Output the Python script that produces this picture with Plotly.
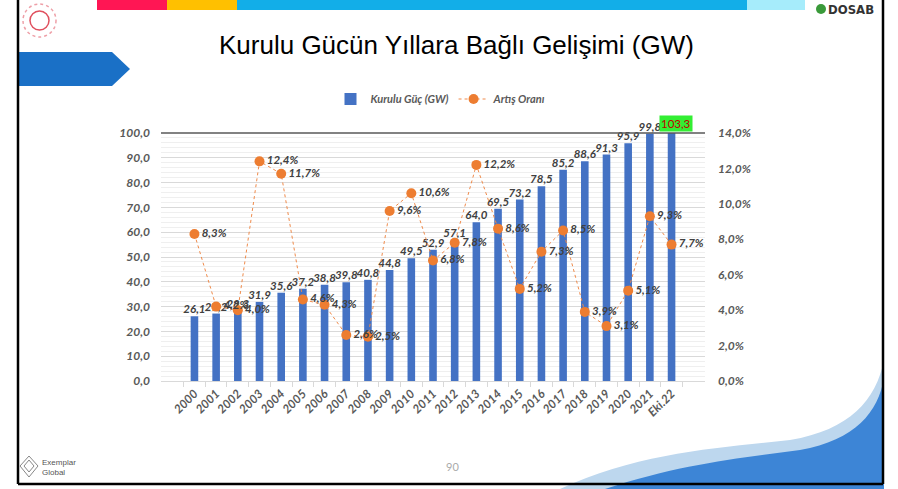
import plotly.graph_objects as go

# ---- data ----
years = ["2000", "2001", "2002", "2003", "2004", "2005", "2006", "2007", "2008", "2009",
         "2010", "2011", "2012", "2013", "2014", "2015", "2016", "2017", "2018", "2019",
         "2020", "2021", "Eki.22"]
kurulu_guc = [26.1, 27.2, 28.3, 31.9, 35.6, 37.2, 38.8, 39.8, 40.8, 44.8, 49.5, 52.9, 57.1,
              64.0, 69.5, 73.2, 78.5, 85.2, 88.6, 91.3, 95.9, 99.8, 103.3]
artis_orani = [8.3, 4.2, 4.0, 12.4, 11.7, 4.6, 4.3, 2.6, 2.5, 9.6, 10.6, 6.8, 7.8, 12.2, 8.6,
               5.2, 7.3, 8.5, 3.9, 3.1, 5.1, 9.3, 7.7]
left_range = [0, 100]
right_range = [0, 14]

title_text = "Kurulu Gücün Yıllara Bağlı Gelişimi (GW)"

# ---- layout geometry (pixels) ----
FW, FH = 898, 489
L, R, T, B = 161, 705, 133, 381
PW, PH = R - L, B - T


def px(x):
    return (x - L) / PW


def py(y):
    return (B - y) / PH


FONT = "Lato"
LABEL_COL = "#404040"
TICK_COL = "#595959"

fig = go.Figure()

fig.add_trace(go.Bar(
    x=years, y=kurulu_guc, name="Kurulu Güç (GW)",
    marker=dict(color="#4472c4", line=dict(width=0)),
    yaxis="y", cliponaxis=True,
))

# bar value labels (last one is drawn as highlighted annotation)
fig.add_trace(go.Scatter(
    x=years[:-1], y=kurulu_guc[:-1], mode="text", showlegend=False,
    texttemplate="%{y:.1f}", textposition="top center",
    textfont=dict(family=FONT, size=11.5, color=LABEL_COL, weight="bold", style="italic"),
    cliponaxis=False, yaxis="y", hoverinfo="skip",
))

fig.add_trace(go.Scatter(
    x=years, y=artis_orani, name="Artış Oranı", mode="lines+markers+text",
    line=dict(color="#ef8a4a", width=1, dash="dot"),
    marker=dict(color="#ed7d31", size=10),
    texttemplate="%{y:.1f}%", textposition="middle right",
    textfont=dict(family=FONT, size=11.5, color=LABEL_COL, weight="bold", style="italic"),
    cliponaxis=False, yaxis="y2",
))

tickfont = dict(family=FONT, size=12, color=TICK_COL, weight="bold", style="italic")

shapes = []
# header colour strips
for x0, x1, col in [(97, 167, "#ff1654"), (167, 237, "#ffc000"),
                    (237, 747, "#12aee8"), (747, 805, "#a6ecfb")]:
    shapes.append(dict(type="rect", xref="paper", yref="paper",
                       x0=px(x0), x1=px(x1), y0=py(0), y1=py(10),
                       fillcolor=col, line=dict(width=0), layer="above"))
# left blue arrow
shapes.append(dict(type="path", xref="paper", yref="paper",
                   path=f"M {px(19)},{py(52)} L {px(112)},{py(52)} L {px(130)},{py(69)} "
                        f"L {px(112)},{py(86)} L {px(19)},{py(86)} Z",
                   fillcolor="#1a70c6", line=dict(width=0)))
# emblem
shapes.append(dict(type="circle", xref="paper", yref="paper",
                   x0=px(23), x1=px(56), y0=py(4), y1=py(37),
                   line=dict(color="#eea0a8", width=1.5, dash="dot")))
shapes.append(dict(type="circle", xref="paper", yref="paper",
                   x0=px(30), x1=px(49), y0=py(11), y1=py(30),
                   line=dict(color="#e0505e", width=1.5)))
# DOSAB icon
shapes.append(dict(type="circle", xref="paper", yref="paper",
                   x0=px(816), x1=px(826), y0=py(4), y1=py(14),
                   fillcolor="#3a9a3a", line=dict(width=0)))
# bottom-right waves
shapes.append(dict(type="path", xref="paper", yref="paper",
                   path=f"M {px(560)},{py(489)} C {px(640)},{py(452)} {px(720)},{py(448)} {px(790)},{py(440)} "
                        f"C {px(850)},{py(430)} {px(876)},{py(400)} {px(884)},{py(360)} L {px(884)},{py(489)} Z",
                   fillcolor="#bdd7ee", line=dict(width=0)))
shapes.append(dict(type="path", xref="paper", yref="paper",
                   path=f"M {px(605)},{py(489)} C {px(680)},{py(464)} {px(740)},{py(458)} {px(800)},{py(450)} "
                        f"C {px(856)},{py(440)} {px(878)},{py(412)} {px(884)},{py(378)} L {px(884)},{py(489)} Z",
                   fillcolor="#3d85d6", line=dict(width=0)))
# Exemplar diamond
shapes.append(dict(type="path", xref="paper", yref="paper",
                   path=f"M {px(29)},{py(456)} L {px(38)},{py(466)} L {px(29)},{py(477)} L {px(20)},{py(466)} Z",
                   line=dict(color="#888888", width=1)))
shapes.append(dict(type="path", xref="paper", yref="paper",
                   path=f"M {px(29)},{py(460)} L {px(34)},{py(466)} L {px(29)},{py(472)} L {px(24)},{py(466)} Z",
                   line=dict(color="#888888", width=1)))
# slide frame
for x0, y0, x1, y1 in [(18, 0, 18, 484), (18, 484, 883, 484), (883, 0, 883, 484)]:
    shapes.append(dict(type="line", xref="paper", yref="paper",
                       x0=px(x0), x1=px(x1), y0=py(y0), y1=py(y1),
                       line=dict(color="#000000", width=2.5), layer="above"))
# top dark line at axis max
shapes.append(dict(type="line", xref="paper", yref="paper", x0=0, x1=1, y0=1, y1=1,
                   line=dict(color="#595959", width=1.5)))

annotations = [
    dict(text=title_text, xref="paper", yref="paper", x=px(456), y=py(45),
         showarrow=False, font=dict(family="Liberation Sans", size=26, color="#000000"),
         xanchor="center", yanchor="middle"),
    dict(text=f"{kurulu_guc[-1]:.1f}".replace(".", ","), xref="x", yref="paper",
         x=years[-1], y=1, yanchor="bottom", xanchor="center", showarrow=False,
         xshift=4, yshift=1,
         bgcolor="#33ee33", borderpad=1,
         font=dict(family=FONT, size=11.5, color="#c00000")),
    dict(text="<b>DOSAB</b>", xref="paper", yref="paper", x=px(851), y=py(9),
         showarrow=False, font=dict(family="DejaVu Sans Condensed, DejaVu Sans", size=13, color="#333333"),
         xanchor="center", yanchor="middle"),
    dict(text="90", xref="paper", yref="paper", x=px(452), y=py(466), showarrow=False,
         font=dict(family=FONT, size=11, color="#aaaaaa"), xanchor="center", yanchor="middle"),
    dict(text="Exemplar<br>Global", xref="paper", yref="paper", x=px(40), y=py(467), showarrow=False,
         align="left", font=dict(family="Liberation Sans Narrow, Liberation Sans", size=8, color="#555555"),
         xanchor="left", yanchor="middle"),
]

fig.update_layout(
    width=FW, height=FH,
    margin=dict(l=L, r=FW - R, t=T, b=FH - B, pad=0),
    paper_bgcolor="white", plot_bgcolor="white",
    separators=",.",
    bargap=0.65,
    showlegend=True,
    legend=dict(orientation="h", x=px(441), xanchor="center", y=py(99), yanchor="middle",
                font=dict(family=FONT, size=11, color=TICK_COL, weight="bold", style="italic"),
                bgcolor="rgba(0,0,0,0)", itemwidth=30, tracegroupgap=0),
    xaxis=dict(type="category", tickangle=-45, tickfont=tickfont,
               showline=True, linecolor="#d9d9d9", linewidth=1,
               ticks="outside", tickson="boundaries", ticklen=5, tickcolor="#d9d9d9",
               showgrid=False, zeroline=False),
    yaxis=dict(range=left_range, dtick=10, tickformat=".1f", tickfont=tickfont,
               showgrid=True, gridcolor="#d9d9d9", gridwidth=1,
               minor=dict(dtick=2, showgrid=True, gridcolor="#efefef", gridwidth=1),
               zeroline=False, showline=False, ticks="", ticklabelstandoff=10),
    yaxis2=dict(range=right_range, dtick=2, tickformat=".1f", ticksuffix="%",
                tickfont=tickfont, overlaying="y", side="right", showgrid=False,
                zeroline=False, showline=False, ticks="", ticklabelstandoff=12),
    shapes=shapes,
    annotations=annotations,
)

fig.write_html("out.html", config={"displayModeBar": False},
               post_script="document.body.style.margin='0px';")
